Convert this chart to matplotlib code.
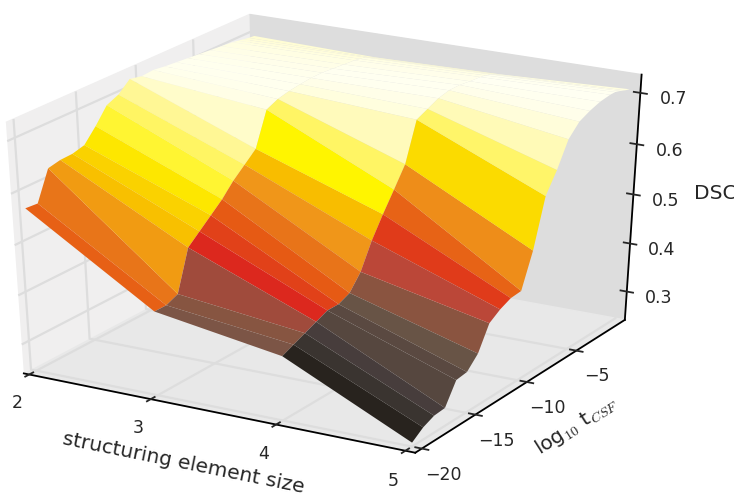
import numpy as np
import matplotlib
matplotlib.use("Agg")
import matplotlib.pyplot as plt
from matplotlib.colors import LinearSegmentedColormap, Normalize

# structuring element sizes and log10 thresholds
se_size = [2, 3, 4, 5]
log_t = [-20, -19, -18, -17, -16, -15, -14, -13, -12, -11, -10, -9, -8, -7, -6, -5, -4, -3, -2, -1.5, -1, -0.5, 0]

# DSC per structuring element size, one value per threshold
dsc_2 = [.567, .565, .622, .627, .628, .634, .66, .69, .70, .72, .715, .717, .714, .712, .71, .708, .706, .704, .702, .70, .698, .696, .695]
dsc_3 = [.41, .41, .42, .50, .52, .54, .56, .585, .605, .625, .69, .70, .705, .708, .71, .71, .708, .706, .704, .702, .70, .695, .69]
dsc_4 = [.37, .38, .39, .40, .41, .41, .42, .45, .50, .54, .577, .615, .69, .70, .71, .715, .715, .712, .71, .708, .705, .70, .695]
dsc_5 = [.248, .265, .275, .277, .32, .323, .347, .395, .41, .42, .422, .49, .585, .624, .672, .695, .705, .712, .715, .715, .712, .708, .705]

x_ticks = [2, 3, 4, 5]
y_ticks = [-20, -15, -10, -5]
z_ticks = [0.3, 0.4, 0.5, 0.6, 0.7]

plt.rcParams["font.family"] = "DejaVu Sans"
plt.rcParams["mathtext.fontset"] = "cm"

# colours read from the facets, keyed by DSC
z_lo, z_hi = 0.316, 0.72
stops = [(.316, (40, 35, 30)), (.325, (55, 50, 45)), (.334, (70, 60, 60)), (.348, (85, 70, 62)),
         (.366, (90, 73, 65)), (.375, (105, 85, 70)), (.3925, (125, 85, 70)), (.40, (135, 85, 65)),
         (.4275, (160, 75, 60)), (.44, (190, 70, 55)), (.4575, (220, 40, 30)), (.47, (225, 65, 25)),
         (.4825, (230, 90, 20)), (.5025, (232, 115, 25)), (.535, (240, 150, 25)), (.55, (243, 160, 10)),
         (.568, (248, 190, 0)), (.58, (250, 210, 0)), (.592, (250, 210, 0)), (.604, (255, 245, 0)),
         (.615, (255, 245, 0)), (.63, (255, 245, 80)), (.65, (255, 245, 105)), (.668, (255, 248, 165)),
         (.682, (255, 251, 195)), (.697, (255, 253, 215)), (.712, (255, 255, 240)), (.72, (255, 255, 255))]
cmap = LinearSegmentedColormap.from_list(
    "dsc", [((z - z_lo) / (z_hi - z_lo), tuple(c / 255 for c in rgb)) for z, rgb in stops], N=512)

W, H = 734, 496
ax_w, ax_h = 768, 472   # size of the 3d axes, px
cx, cy = 319, 264       # its centre, px from bottom left

fig = plt.figure(figsize=(W / 100, H / 100), dpi=100)
ax = fig.add_axes([(cx - ax_w / 2) / W, (cy - ax_h / 2) / H, ax_w / W, ax_h / H], projection="3d")
ax.patch.set_alpha(0)
# the reference is a cube stretched to the figure, so keep the axes box non-square
ax.apply_aspect = lambda position=None: None
ax.view_init(elev=30, azim=-60)
ax.set_box_aspect((1, 1, 1.03), zoom=1.0)

X, Y = np.meshgrid(se_size, log_t)
Z = np.array([dsc_2, dsc_3, dsc_4, dsc_5]).T
ax.plot_surface(X, Y, Z, rstride=1, cstride=1, cmap=cmap, norm=Normalize(z_lo, z_hi), antialiased=True, linewidth=0)

ax.set_xlim(1.955, 5.075)
ax.set_ylim(-20.6, 0.1)
ax.set_zlim(0.24, 0.735)
ax.set_xticks(x_ticks)
ax.set_yticks(y_ticks)
ax.set_zticks(z_ticks)
ax.tick_params(labelsize=12.5, colors="#262626", pad=4.5)
ax.set_xlabel("structuring element size", fontsize=14.5, color="#262626", labelpad=10)
ax.set_ylabel("log$_{10}$ t$_{CSF}$", fontsize=14.5, color="#262626", labelpad=10)
ax.set_zlabel("DSC", fontsize=14.5, color="#262626", labelpad=11)

pane_cols = {ax.xaxis: "#f0efef", ax.yaxis: "#dddddd", ax.zaxis: "#e8e8e8"}
for axis, col in pane_cols.items():
    axis.set_pane_color(col)
    axis.pane.set_edgecolor(col)
    axis._axinfo["grid"].update(color="#dddddd", linewidth=1.6)
    axis._axinfo["axisline"]["color"] = "#262626"
    axis._axinfo["tick"].update(inward_factor=0.2, outward_factor=0.2, color="#262626")
    axis._axinfo["tick"]["linewidth"] = {True: 1.3, False: 0.5}
    axis.line.set_linewidth(1.3)

fig.savefig("out.png", dpi=100)
